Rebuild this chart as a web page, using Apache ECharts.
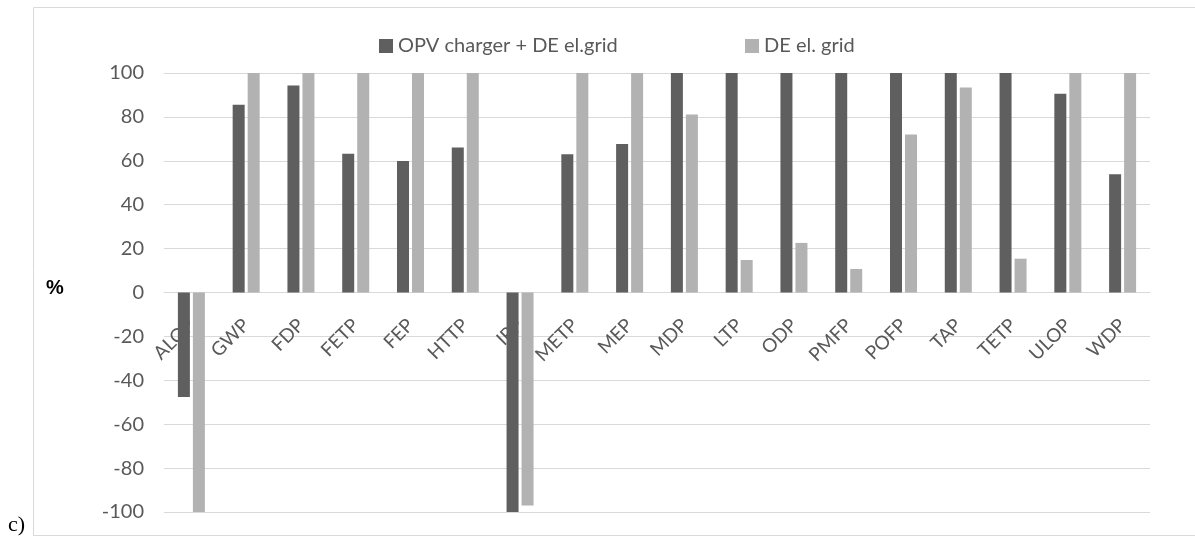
<!DOCTYPE html>
<html>
<head>
<meta charset="utf-8">
<script src="https://cdn.jsdelivr.net/npm/echarts@6/dist/echarts.min.js"></script>
<style>
html,body{margin:0;padding:0;background:#fff;}
#c{width:1195px;height:540px;}
</style>
</head>
<body>
<div id="c"></div>
<script>
const categories = ['ALOP','GWP','FDP','FETP','FEP','HTTP','IRP','METP','MEP','MDP','LTP','ODP','PMFP','POFP','TAP','TETP','ULOP','WDP'];
const opvValues = [-47.6, 85.5, 94.3, 63.2, 59.9, 66.1, -100, 63, 67.6, 100, 100, 100, 100, 100, 100, 100, 90.5, 53.9];
const gridValues = [-100, 100, 100, 100, 100, 100, -97, 100, 100, 81.1, 14.8, 22.6, 10.7, 72, 93.4, 15.4, 100, 100];
const seriesNames = ['OPV charger + DE el.grid', 'DE el. grid'];
const yTicks = [-100, -80, -60, -40, -20, 0, 20, 40, 60, 80, 100];

const FONT = 'Lato, "Open Sans", sans-serif';
const chart = echarts.init(document.getElementById('c'));
chart.setOption({
  animation: false,
  color: ['#5f5f5f', '#b2b2b2'],
  graphic: [
    { type: 'rect', shape: { x: 33.5, y: 7.5, width: 1200, height: 528 }, style: { fill: 'none', stroke: '#d9d9d9', lineWidth: 1 }, z: -1 },
    { type: 'text', left: 46, top: 278, style: { text: '%', font: 'bold 20px "Liberation Sans", Arial, sans-serif', fill: '#000' } },
    { type: 'text', left: 8, top: 514, style: { text: 'c)', font: '22px "Liberation Serif", "Times New Roman", serif', fill: '#000' } }
  ],
  legend: [
    { data: [seriesNames[0]], left: 374, top: 31, itemWidth: 14, itemHeight: 14, icon: 'rect',
      textStyle: { fontFamily: FONT, fontSize: 20, color: '#595959' }, itemGap: 6 },
    { data: [seriesNames[1]], left: 740, top: 31, itemWidth: 14, itemHeight: 14, icon: 'rect',
      textStyle: { fontFamily: FONT, fontSize: 20, color: '#595959' }, itemGap: 6 }
  ],
  grid: { left: 164, right: 45, top: 73, bottom: 28, containLabel: false, outerBoundsMode: 'none' },
  xAxis: {
    type: 'category',
    data: categories,
    position: 'bottom',
    offset: -220,
    axisLine: { onZero: false, lineStyle: { color: '#d9d9d9', width: 1 } },
    axisTick: { show: false },
    axisLabel: { rotate: 45, interval: 0, fontFamily: FONT, fontSize: 19, color: '#595959', margin: 30 },
    splitLine: { show: false },
    z: 1
  },
  yAxis: {
    type: 'value',
    min: yTicks[0],
    max: yTicks[yTicks.length - 1],
    interval: 20,
    axisLine: { show: false },
    axisTick: { show: false },
    axisLabel: { fontFamily: FONT, fontSize: 20, color: '#595959', margin: 20 },
    splitLine: { lineStyle: { color: '#d9d9d9', width: 1 } }
  },
  series: [
    { name: seriesNames[0], type: 'bar', data: opvValues, barWidth: 12, barGap: '25%', itemStyle: { color: '#5f5f5f' }, z: 2 },
    { name: seriesNames[1], type: 'bar', data: gridValues, barWidth: 12, barGap: '25%', itemStyle: { color: '#b2b2b2' }, z: 2 }
  ]
});
</script>
</body>
</html>
